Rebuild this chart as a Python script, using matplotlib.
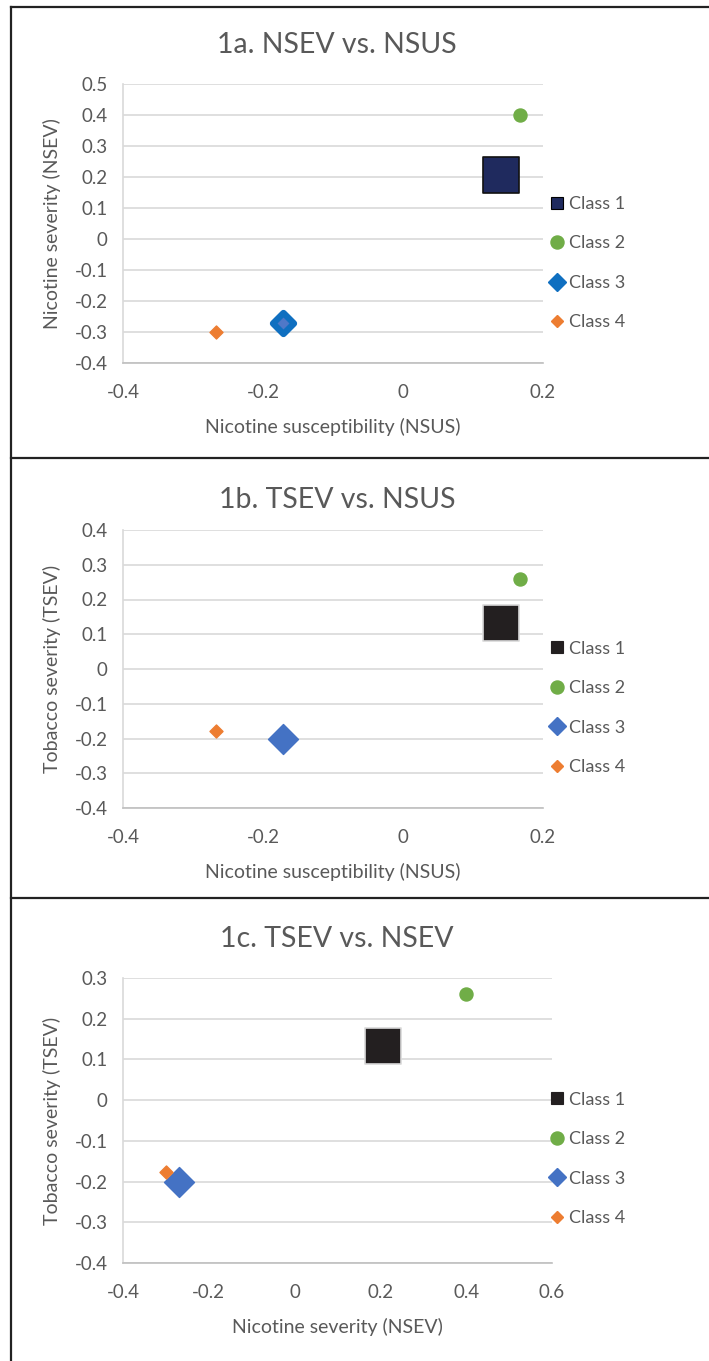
import matplotlib
matplotlib.use('Agg')
import matplotlib.pyplot as plt
from matplotlib.lines import Line2D

plt.rcParams['font.family'] = ['Lato', 'DejaVu Sans']

# class coordinates
classes = ['Class 1', 'Class 2', 'Class 3', 'Class 4']
nsus = [0.14, 0.167, -0.171, -0.267]
nsev = [0.205, 0.40, -0.27, -0.30]
tsev = [0.132, 0.26, -0.20, -0.177]

W, H = 709, 1361
GREY = '#595959'
GRID = '#D9D9D9'

fig = plt.figure(figsize=(W / 100, H / 100), dpi=100)


def px_axes(left, top, right, bottom):
    return fig.add_axes([left / W, 1 - bottom / H, (right - left) / W, (bottom - top) / H])


def style(ax, xlim, xticks, ylim, yticks):
    ax.set_xlim(*xlim)
    ax.set_ylim(*ylim)
    ax.set_xticks(xticks)
    ax.set_yticks(yticks)
    ax.set_xticklabels(['%g' % t for t in xticks])
    ax.set_yticklabels(['%g' % t for t in yticks])
    for s in ['top', 'right']:
        ax.spines[s].set_visible(False)
    ax.spines['left'].set_color(GRID)
    ax.spines['left'].set_linewidth(1.2)
    ax.spines['bottom'].set_color('#BFBFBF')
    ax.spines['bottom'].set_linewidth(1.2)
    ax.grid(axis='y', color=GRID, lw=1.2)
    ax.set_axisbelow(True)
    ax.tick_params(length=0, labelsize=13.5, labelcolor=GREY, pad=11)
    ax.tick_params(axis='x', pad=15)


def panel(top, bottom, right, x, y, xlim, xticks, ylim, yticks,
          title, title_y, xlabel, ylabel, c1, c3, c1edge, inner3, leg_y):
    ax = px_axes(123, top, right, bottom)
    style(ax, xlim, xticks, ylim, yticks)
    ax.scatter([x[0]], [y[0]], marker='s', s=670, c=c1, edgecolors=c1edge, linewidths=1.2, zorder=3)
    ax.scatter([x[1]], [y[1]], marker='o', s=88, c='#70AD47', zorder=3)
    if inner3:
        ax.scatter([x[2]], [y[2]], marker='D', s=114, c='#4F78C8', edgecolors=c3, linewidths=4.6, zorder=3)
    else:
        ax.scatter([x[2]], [y[2]], marker='D', s=233, c=c3, zorder=3)
    ax.scatter([x[3]], [y[3]], marker='D', s=44, c='#ED7D31', zorder=3)

    fig.text(337 / W, 1 - title_y / H, title, ha='center', va='center', fontsize=20.5, color=GREY)
    ax.set_xlabel(xlabel, fontsize=14, color=GREY, labelpad=12)
    ax.set_ylabel(ylabel, fontsize=14, color=GREY, labelpad=10)

    handles = [
        Line2D([], [], ls='', marker='s', ms=9.2, mfc=c1, mec='black' if inner3 else c1, mew=0.8),
        Line2D([], [], ls='', marker='o', ms=9.4, mfc='#70AD47', mec='#70AD47'),
        Line2D([], [], ls='', marker='D', ms=9.6, mfc=c3, mec=c3),
        Line2D([], [], ls='', marker='D', ms=6.4, mfc='#ED7D31', mec='#ED7D31'),
    ]
    # legend sits at the same pixel column in every panel
    leg_x = (548 - 123) / (right - 123)
    ax.legend(handles, classes, loc='center left', bbox_to_anchor=(leg_x, leg_y),
              frameon=False, fontsize=13, labelcolor=GREY, handlelength=0.95,
              handletextpad=0.2, labelspacing=1.3, borderpad=0, borderaxespad=0)
    return ax


a1 = panel(84, 363, 543, nsus, nsev, (-0.4, 0.2), [-0.4, -0.2, 0, 0.2],
           (-0.4, 0.5), [-0.4, -0.3, -0.2, -0.1, 0, 0.1, 0.2, 0.3, 0.4, 0.5],
           '1a. NSEV vs. NSUS', 45, 'Nicotine susceptibility (NSUS)', 'Nicotine severity (NSEV)',
           '#1F2A5E', '#0F6FC0', '#111111', True, 0.358)
a2 = panel(530, 808, 543, nsus, tsev, (-0.4, 0.2), [-0.4, -0.2, 0, 0.2],
           (-0.4, 0.4), [-0.4, -0.3, -0.2, -0.1, 0, 0.1, 0.2, 0.3, 0.4],
           '1b. TSEV vs. NSUS', 500, 'Nicotine susceptibility (NSUS)', 'Tobacco severity (TSEV)',
           '#231F20', '#4472C4', '#D9D9D9', False, 0.36)
a3 = panel(978, 1263, 552, nsev, tsev, (-0.4, 0.6), [-0.4, -0.2, 0, 0.2, 0.4, 0.6],
           (-0.4, 0.3), [-0.4, -0.3, -0.2, -0.1, 0, 0.1, 0.2, 0.3],
           '1c. TSEV vs. NSEV', 939, 'Nicotine severity (NSEV)', 'Tobacco severity (TSEV)',
           '#231F20', '#4472C4', '#D9D9D9', False, 0.365)

# panel frame lines
for yy in [7, 458, 898]:
    fig.add_artist(Line2D([11 / W, 1], [1 - yy / H, 1 - yy / H], color='#222222', lw=1.6))
fig.add_artist(Line2D([11 / W, 11 / W], [1 - 7 / H, 0], color='#222222', lw=1.6))

fig.savefig('out.png', dpi=100)
